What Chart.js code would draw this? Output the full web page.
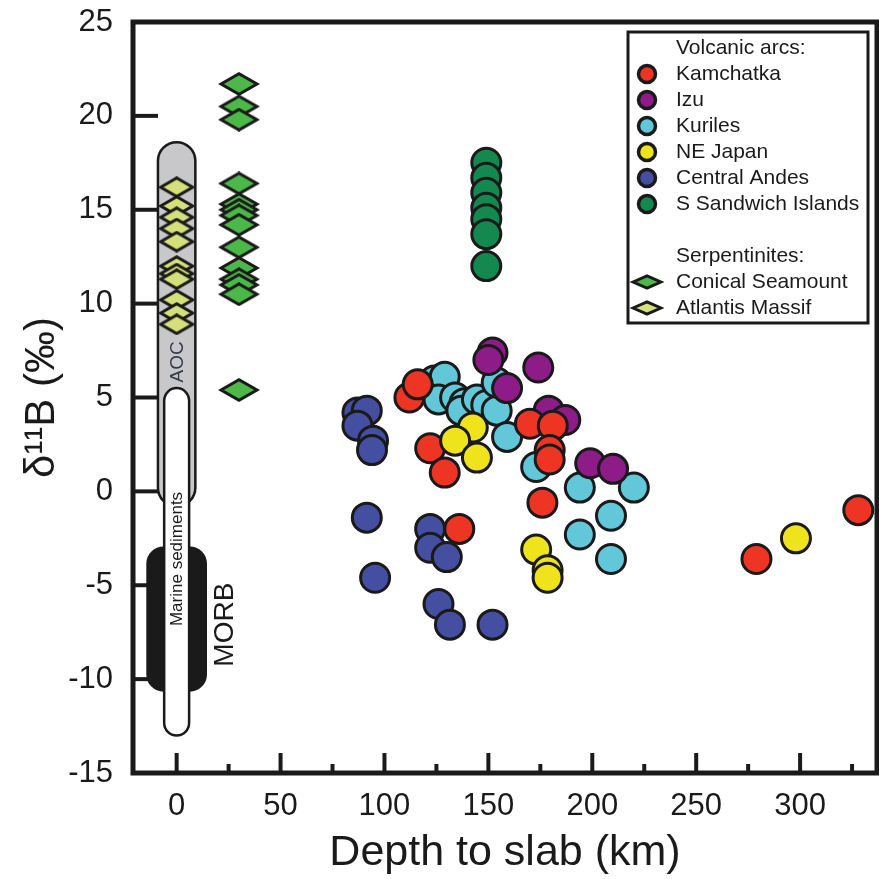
<!DOCTYPE html>
<html>
<head>
<meta charset="utf-8">
<script src="https://cdn.jsdelivr.net/npm/chart.js@4.4.1/dist/chart.umd.min.js"></script>
<style>
  html, body { margin: 0; padding: 0; background: #fff; }
  #wrap { width: 879px; height: 879px; }
</style>
</head>
<body>
<div id="wrap"><canvas id="grafico" width="879" height="879"></canvas></div>
<script>
// ---- data (depth to slab km, d11B permil) ----
const kamchatkaX = [112, 116, 122, 129, 136, 170, 181, 179.5, 179.5, 176, 279, 328];
const kamchatkaY = [5.0, 5.7, 2.3, 1.0, -2.0, 3.6, 3.5, 2.2, 1.7, -0.6, -3.6, -1.0];

const izuX = [152, 150, 174, 159, 179, 187, 199, 210];
const izuY = [7.4, 7.0, 6.6, 5.5, 4.3, 3.8, 1.5, 1.2];

const kurilesX = [124, 129, 126, 134, 138.5, 137, 144.5, 149, 154, 154, 159, 173, 194, 220, 209, 194, 209];
const kurilesY = [5.9, 6.1, 4.9, 5.0, 4.7, 4.3, 4.9, 4.6, 4.3, 5.8, 2.9, 1.3, 0.2, 0.2, -1.3, -2.3, -3.6];

const neJapanX = [142.5, 134, 144.5, 173, 178.5, 178.5, 298];
const neJapanY = [3.4, 2.7, 1.8, -3.1, -4.2, -4.6, -2.5];

const andesX = [87, 91.5, 87, 94.5, 94, 91.5, 95.5, 122, 122, 130, 126, 131.5, 152];
const andesY = [4.2, 4.3, 3.5, 2.7, 2.2, -1.4, -4.6, -2.0, -3.0, -3.5, -6.0, -7.1, -7.1];

const sandwichX = [149, 149, 149, 149, 149, 149, 149];
const sandwichY = [17.5, 16.7, 15.9, 15.1, 14.5, 13.7, 12.0];

const conicalX = [30, 30, 30, 30, 30, 30, 30, 30, 30, 30, 30, 30, 30, 30];
const conicalY = [21.7, 20.5, 19.8, 16.4, 15.3, 15.0, 14.7, 14.2, 13.0, 11.9, 11.3, 11.0, 10.5, 5.4];

const atlantisX = [0, 0, 0, 0, 0, 0, 0, 0, 0, 0, 0];
const atlantisY = [16.2, 15.2, 14.6, 14.0, 13.3, 12.0, 11.6, 11.3, 10.2, 9.5, 8.9];

// reservoir ranges (AOC, MORB, marine sediments)
const reservoirNames = ['AOC', 'MORB', 'Marine sediments'];
const reservoirXMin = [-9, -14, -6];
const reservoirXMax = [9, 14, 6];
const reservoirYMin = [-0.8, -10.6, -13];
const reservoirYMax = [18.6, -3, 5.5];
const reservoirLabelX = [0, 23, 0];
const reservoirLabelY = [6.9, -7.1, -3.6];

// axis ticks
const xLabelTicks = [0, 50, 100, 150, 200, 250, 300];
const xMinorTicks = [25, 75, 125, 175, 225, 275, 325];
const yTicks = [-10, -5, 0, 5, 10, 15, 20];

const FONT = "'Liberation Sans', Arial, sans-serif";
const INK = '#1a1a1a';

const pts = (xs, ys) => xs.map((x, i) => ({ x: x, y: ys[i] }));

// rombo achatado como estilo de punto
function diamond(w, h, fill, lw) {
    const c = document.createElement('canvas');
    c.width = w; c.height = h;
    const g = c.getContext('2d');
    g.beginPath();
    g.moveTo(lw, h / 2);
    g.lineTo(w / 2, lw * 0.6);
    g.lineTo(w - lw, h / 2);
    g.lineTo(w / 2, h - lw * 0.6);
    g.closePath();
    g.fillStyle = fill;
    g.fill();
    g.lineWidth = lw;
    g.lineJoin = 'miter';
    g.strokeStyle = INK;
    g.stroke();
    return c;
}

const colores = {
    kam: '#ee3524', izu: '#8d1b88', kur: '#62c7d8', nej: '#efe41c',
    and: '#454fa2', ssw: '#14894f', con: '#4cb84a', atl: '#d4e17a'
};

const conicalImg = diamond(42, 24, colores.con, 3);
const atlantisImg = diamond(38, 22, colores.atl, 3);

function circleSet(label, data, color) {
    return {
        label: label, data: data,
        pointStyle: 'circle', pointRadius: 14.5,
        backgroundColor: color, borderColor: INK, borderWidth: 3
    };
}

const datasets = [
    circleSet('NE Japan', pts(neJapanX, neJapanY), colores.nej),
    circleSet('Kamchatka', pts(kamchatkaX, kamchatkaY), colores.kam),
    circleSet('Izu', pts(izuX, izuY), colores.izu),
    circleSet('Kuriles', pts(kurilesX, kurilesY), colores.kur),
    circleSet('Central Andes', pts(andesX, andesY), colores.and),
    circleSet('S Sandwich Islands', pts(sandwichX, sandwichY), colores.ssw),
    { label: 'Conical Seamount', data: pts(conicalX, conicalY), pointStyle: conicalImg, pointRadius: 12 },
    { label: 'Atlantis Massif', data: pts(atlantisX, atlantisY), pointStyle: atlantisImg, pointRadius: 11 }
];

// barras de reservorios + ticks hacia adentro
const fondoPlugin = {
    id: 'fondo',
    beforeDatasetsDraw(chart) {
        const { ctx, chartArea: a, scales: { x, y } } = chart;
        ctx.save();
        ctx.strokeStyle = INK;
        ctx.lineWidth = 4;
        yTicks.forEach(v => {
            const py = y.getPixelForValue(v);
            ctx.beginPath(); ctx.moveTo(a.left, py); ctx.lineTo(a.left + 25, py); ctx.stroke();
        });
        xLabelTicks.forEach(v => {
            const px = x.getPixelForValue(v);
            ctx.beginPath(); ctx.moveTo(px, a.bottom); ctx.lineTo(px, a.bottom - 20); ctx.stroke();
        });
        xMinorTicks.forEach(v => {
            const px = x.getPixelForValue(v);
            ctx.beginPath(); ctx.moveTo(px, a.bottom); ctx.lineTo(px, a.bottom - 9); ctx.stroke();
        });

        const fills = ['#c8c8cb', INK, '#ffffff'];
        reservoirNames.forEach((n, i) => {
            const l = x.getPixelForValue(reservoirXMin[i]);
            const r = x.getPixelForValue(reservoirXMax[i]);
            const t = y.getPixelForValue(reservoirYMax[i]);
            const b = y.getPixelForValue(reservoirYMin[i]);
            const rad = n === 'MORB' ? 16 : (r - l) / 2;
            ctx.beginPath();
            ctx.roundRect(l, t, r - l, b - t, rad);
            ctx.fillStyle = fills[i];
            ctx.fill();
            ctx.lineWidth = 2.5;
            ctx.strokeStyle = INK;
            ctx.stroke();
        });

        const sizes = [19, 28, 17];
        const tcol = ['#333a4a', INK, INK];
        reservoirNames.forEach((n, i) => {
            ctx.save();
            ctx.translate(x.getPixelForValue(reservoirLabelX[i]), y.getPixelForValue(reservoirLabelY[i]));
            ctx.rotate(-Math.PI / 2);
            ctx.font = sizes[i] + 'px ' + FONT;
            ctx.fillStyle = tcol[i];
            ctx.textAlign = 'center';
            ctx.textBaseline = 'middle';
            ctx.fillText(n, 0, 1);
            ctx.restore();
        });
        ctx.restore();
    },
    afterDatasetsDraw(chart) {
        const { ctx, chartArea: a } = chart;
        ctx.save();
        ctx.strokeStyle = INK;
        ctx.lineWidth = 5;
        ctx.strokeRect(a.left, a.top, a.right - a.left, a.bottom - a.top);
        ctx.restore();
    }
};

// leyenda con encabezados
const legendRows = [
    { text: 'Volcanic arcs:' },
    { text: 'Kamchatka', color: colores.kam },
    { text: 'Izu', color: colores.izu },
    { text: 'Kuriles', color: colores.kur },
    { text: 'NE Japan', color: colores.nej },
    { text: 'Central Andes', color: colores.and },
    { text: 'S Sandwich Islands', color: colores.ssw },
    { text: '' },
    { text: 'Serpentinites:' },
    { text: 'Conical Seamount', img: diamond(34, 16, colores.con, 3) },
    { text: 'Atlantis Massif', img: diamond(34, 16, colores.atl, 3) }
];

const leyendaPlugin = {
    id: 'leyenda',
    afterDraw(chart) {
        const ctx = chart.ctx;
        const bx = 628, by = 32, bw = 240, bh = 291;
        ctx.save();
        ctx.fillStyle = '#fff';
        ctx.fillRect(bx, by, bw, bh);
        ctx.lineWidth = 3;
        ctx.strokeStyle = INK;
        ctx.strokeRect(bx, by, bw, bh);
        ctx.font = '21px ' + FONT;
        ctx.textBaseline = 'middle';
        legendRows.forEach((row, i) => {
            const cy = by + 16 + i * 26;
            if (row.color) {
                ctx.beginPath();
                ctx.arc(bx + 19, cy, 8.5, 0, Math.PI * 2);
                ctx.fillStyle = row.color;
                ctx.fill();
                ctx.lineWidth = 3.5;
                ctx.strokeStyle = INK;
                ctx.stroke();
            }
            if (row.img) {
                ctx.drawImage(row.img, bx + 2, cy - 8);
            }
            ctx.fillStyle = INK;
            ctx.fillText(row.text, bx + 48, cy);
        });
        ctx.restore();
    }
};

const ctx = document.getElementById('grafico').getContext('2d');
new Chart(ctx, {
    type: 'scatter',
    data: { datasets: datasets },
    plugins: [fondoPlugin, leyendaPlugin],
    options: {
        responsive: false,
        animation: false,
        events: [],
        layout: { autoPadding: false, padding: { top: 22, right: 2, left: 0, bottom: 0 } },
        plugins: { legend: { display: false }, tooltip: { enabled: false } },
        scales: {
            x: {
                type: 'linear',
                min: -21, max: 337,
                afterBuildTicks: s => { s.ticks = xLabelTicks.map(v => ({ value: v })); },
                afterFit: s => { s.height = 106; s.paddingLeft = 0; s.paddingRight = 0; },
                grid: { display: false, drawTicks: false },
                border: { display: false },
                ticks: { padding: 15, color: INK, font: { size: 31, family: FONT } },
                title: {
                    display: true, text: 'Depth to slab (km)', color: INK,
                    font: { size: 43, family: FONT }, padding: { top: 0, bottom: 0 }
                }
            },
            y: {
                type: 'linear',
                min: -15, max: 25,
                ticks: { stepSize: 5, padding: 20, color: INK, font: { size: 31, family: FONT } },
                afterFit: s => { s.width = 133; s.paddingTop = 0; s.paddingBottom = 0; },
                grid: { display: false, drawTicks: false },
                border: { display: false },
                title: {
                    display: true, text: 'δ¹¹B (‰)', color: INK,
                    font: { size: 42, family: FONT }, padding: { top: 17, bottom: 0 }
                }
            }
        }
    }
});
</script>
</body>
</html>
